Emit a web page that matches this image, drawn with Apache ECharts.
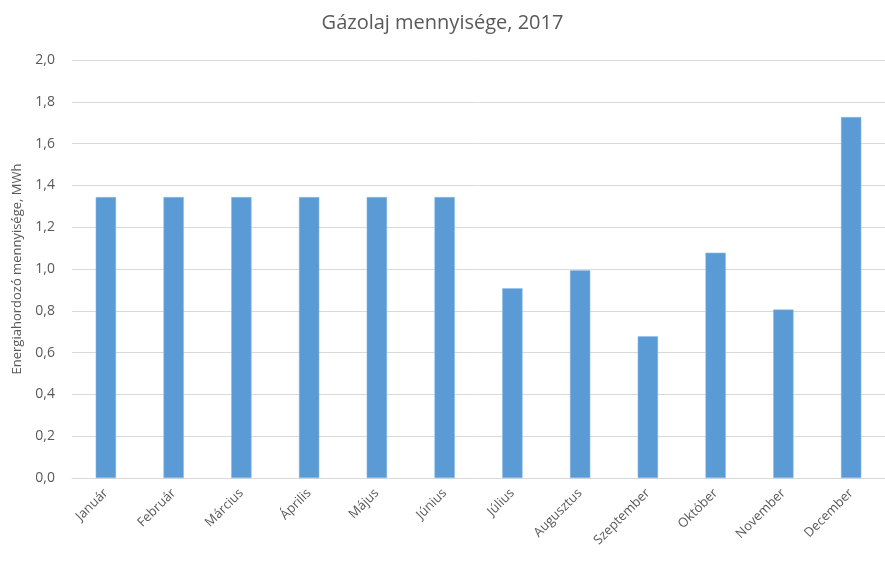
<!DOCTYPE html>
<html>
<head>
<meta charset="utf-8">
<script src="https://cdn.jsdelivr.net/npm/echarts@6/dist/echarts.min.js"></script>
<style>
  html, body { margin: 0; padding: 0; background: #fff; }
  #main { width: 885px; height: 561px; }
</style>
</head>
<body>
<div id="main"></div>
<script>
// Gázolaj havi mennyisége 2017-ben (MWh), leolvasva az eredeti ábráról
const months = ["Január", "Február", "Március", "Április", "Május", "Június",
  "Július", "Augusztus", "Szeptember", "Október", "November", "December"];
const amounts = [1.344, 1.344, 1.344, 1.344, 1.344, 1.344, 0.908, 0.994, 0.678, 1.078, 0.806, 1.727];

const TEXT = "#595959";
const GRID = "#d9d9d9";
const FONT = "'Open Sans', 'Noto Sans', sans-serif";

const chart = echarts.init(document.getElementById("main"), null, { renderer: "canvas" });
chart.setOption({
  animation: false,
  textStyle: { fontFamily: FONT },
  title: {
    text: "Gázolaj mennyisége, 2017",
    left: "center",
    top: 8,
    textStyle: { fontSize: 20, fontWeight: "normal", color: TEXT, fontFamily: FONT }
  },
  grid: { left: 72, right: -13, top: 60, bottom: 83, containLabel: false },
  xAxis: {
    type: "category",
    data: months,
    axisLine: { lineStyle: { color: GRID, width: 1 } },
    axisTick: { show: false },
    axisLabel: { rotate: 45, color: TEXT, fontSize: 13, margin: 13, interval: 0 }
  },
  yAxis: {
    type: "value",
    min: 0,
    max: 2,
    interval: 0.2,
    name: "Energiahordozó mennyisége, MWh",
    nameLocation: "middle",
    nameGap: 48,
    nameTextStyle: { color: TEXT, fontSize: 13 },
    axisLine: { show: false },
    axisTick: { show: false },
    splitLine: { lineStyle: { color: GRID, width: 1 } },
    axisLabel: {
      color: TEXT,
      fontSize: 14,
      margin: 17,
      formatter: (v) => v.toFixed(1).replace(".", ",")
    }
  },
  series: [{
    type: "bar",
    data: amounts,
    barWidth: "30%",
    itemStyle: { color: "#5b9bd5", borderColor: "#8dbbe6", borderWidth: 0.5 }
  }]
});
</script>
</body>
</html>
